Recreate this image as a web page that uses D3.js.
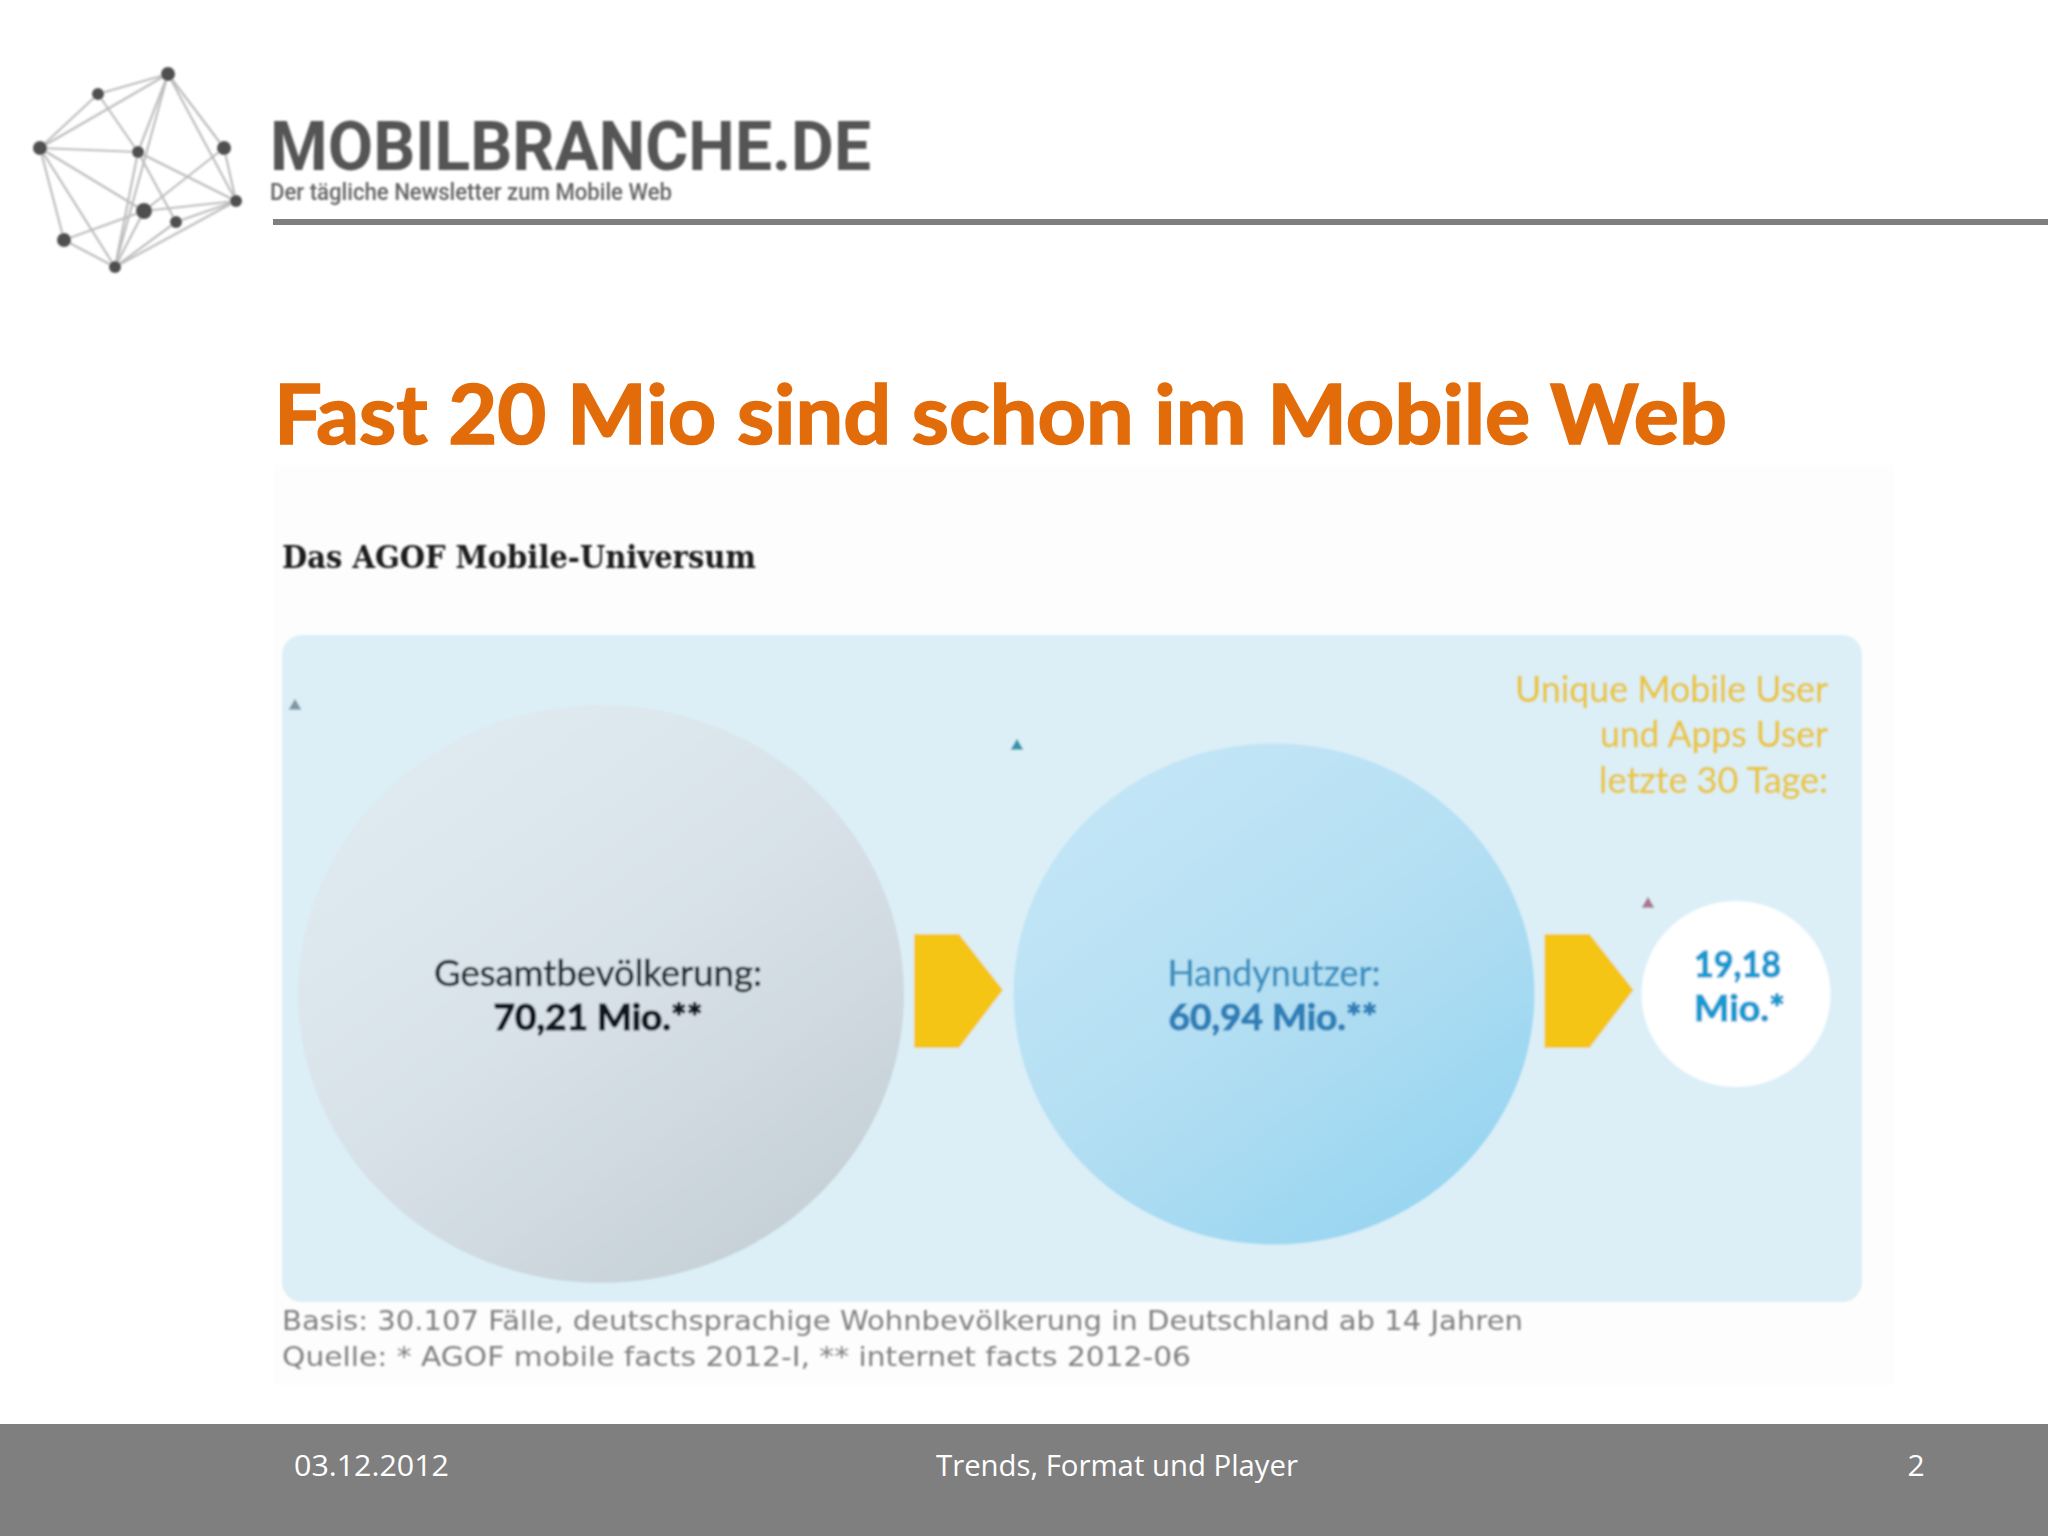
<!DOCTYPE html>
<html>
<head>
<meta charset="utf-8">
<title>Fast 20 Mio sind schon im Mobile Web</title>
<script src="https://cdn.jsdelivr.net/npm/d3@7/dist/d3.min.js"></script>
<style>
  html, body { margin: 0; padding: 0; background: #fff; }
  svg { display: block; }
</style>
</head>
<body>
<svg id="chart" width="2048" height="1536"></svg>
<script>
// audience funnel, in Mio.
const categories = ['Gesamtbevölkerung', 'Handynutzer', 'Unique Mobile User'];
const values = [70.21, 60.94, 19.18];
const nameLabels = ['Gesamtbevölkerung:', 'Handynutzer:', ''];
const valueLabels = ['70,21 Mio.**', '60,94 Mio.**', '19,18'];

const slideTitle = 'Fast 20 Mio sind schon im Mobile Web';
const chartTitle = 'Das AGOF Mobile-Universum';
const uniqueLines = ['Unique Mobile User', 'und Apps User', 'letzte 30 Tage:'];
const notes = [
  'Basis: 30.107 Fälle, deutschsprachige Wohnbevölkerung in Deutschland ab 14 Jahren',
  'Quelle: * AGOF mobile facts 2012-I, ** internet facts 2012-06'
];
const footerLabels = ['03.12.2012', 'Trends, Format und Player', '2'];

const svg = d3.select('#chart');
const defs = svg.append('defs');

// the source is a blurry screenshot
defs.append('filter').attr('id', 'soft')
  .append('feGaussianBlur').attr('stdDeviation', 0.9);

function gradient(id, stops) {
  const g = defs.append('linearGradient').attr('id', id)
    .attr('x1', '15%').attr('y1', '5%').attr('x2', '82%').attr('y2', '95%');
  stops.forEach(s => g.append('stop').attr('offset', s[0]).attr('stop-color', s[1]));
}
gradient('grey', [[0, '#e0ebf2'], [0.5, '#d8e1e8'], [1, '#c5d0d6']]);
gradient('blue', [[0, '#c4e6f6'], [0.5, '#b4dff3'], [1, '#97d5f1']]);

function label(parent, text, opts) {
  const t = parent.append('text')
    .attr('x', opts.x)
    .attr('y', opts.y)
    .attr('text-anchor', opts.anchor || 'start')
    .attr('font-family', opts.font || 'Lato')
    .attr('font-size', opts.size)
    .attr('font-weight', opts.weight || 400)
    .attr('fill', opts.fill)
    .text(text);
  if (opts.len) t.attr('textLength', opts.len).attr('lengthAdjust', 'spacingAndGlyphs');
  // Lato runs lighter than the original face, thicken it a bit
  if (opts.stroke) t.attr('stroke', opts.fill).attr('stroke-width', opts.stroke);
  return t;
}

// --- logo ---
const logoNodes = [[168, 74, 7], [98, 94, 6], [40, 148, 7], [138, 152, 6], [224, 148, 7],
  [236, 201, 6], [144, 211, 8], [176, 222, 6], [64, 240, 7], [115, 267, 6]];
const logoEdges = [[0, 1], [0, 2], [0, 3], [0, 9], [0, 4], [0, 5], [1, 2], [1, 3], [2, 3], [2, 6],
  [2, 8], [2, 9], [3, 9], [3, 7], [3, 5], [4, 5], [4, 6], [6, 5], [6, 8], [6, 9], [7, 5], [7, 9],
  [9, 5], [8, 9]];

const logo = svg.append('g').attr('filter', 'url(#soft)');
logo.selectAll('line').data(logoEdges).enter().append('line')
  .attr('x1', d => logoNodes[d[0]][0])
  .attr('y1', d => logoNodes[d[0]][1])
  .attr('x2', d => logoNodes[d[1]][0])
  .attr('y2', d => logoNodes[d[1]][1])
  .attr('stroke', '#bdbdbd')
  .attr('stroke-width', 2.2);
logo.selectAll('circle').data(logoNodes).enter().append('circle')
  .attr('cx', d => d[0])
  .attr('cy', d => d[1])
  .attr('r', d => d[2])
  .attr('fill', '#505050');

label(logo, 'MOBILBRANCHE.DE', { x: 270, y: 170, font: 'Roboto', size: 69, weight: 700, fill: '#555', len: 601 });
label(logo, 'Der tägliche Newsletter zum Mobile Web', { x: 270, y: 200, font: 'Roboto', size: 23, weight: 500, fill: '#636363', len: 402 });

svg.append('rect').attr('x', 273).attr('y', 219).attr('width', 1775).attr('height', 6).attr('fill', '#7f7f7f');

label(svg, slideTitle, { x: 274, y: 444, size: 82, weight: 700, fill: '#e36c0a', len: 1453, stroke: 1.6 });

// --- picture area ---
svg.append('rect').attr('x', 274).attr('y', 465).attr('width', 1620).attr('height', 920).attr('fill', '#fdfdfd');

const chart = svg.append('g').attr('filter', 'url(#soft)');

label(chart, chartTitle, { x: 282, y: 568, font: 'DejaVu Serif', size: 32, weight: 700, fill: '#1c1c1c', len: 474 });

chart.append('rect')
  .attr('x', 282).attr('y', 635)
  .attr('width', 1580).attr('height', 667)
  .attr('rx', 20)
  .attr('fill', '#dceff7');

// circle sizes follow the values, but not strictly to area in the original
const cx = d3.scaleOrdinal().domain(categories).range([601, 1274, 1736]);
const rx = d3.scaleLinear().domain([19.18, 60.94, 70.21]).range([94.5, 260.5, 303]);
const ry = d3.scaleLinear().domain([19.18, 60.94, 70.21]).range([93, 250.5, 289]);
const cy = 994;

const fills = ['url(#grey)', 'url(#blue)', '#ffffff'];

chart.selectAll('ellipse').data(categories).enter().append('ellipse')
  .attr('cx', d => cx(d))
  .attr('cy', cy)
  .attr('rx', (d, i) => rx(values[i]))
  .attr('ry', (d, i) => ry(values[i]))
  .attr('fill', (d, i) => fills[i]);

// arrows sit just right of the first two circles
const arrowLine = d3.line();
chart.selectAll('path.arrow').data(categories.slice(0, 2)).enter().append('path')
  .attr('class', 'arrow')
  .attr('fill', '#f5c518')
  .attr('d', (d, i) => {
    const x = cx(d) + rx(values[i]) + 10;
    return arrowLine([[x, cy - 60], [x + 45, cy - 60], [x + 89, cy - 4], [x + 45, cy + 54], [x, cy + 54]]);
  });

// small specks left in the source image
const specks = [[295, 706, '#7f97a5'], [1017, 746, '#2f97ab'], [1648, 904, '#a8788f']];
chart.selectAll('path.speck').data(specks).enter().append('path')
  .attr('class', 'speck')
  .attr('transform', d => `translate(${d[0]},${d[1]})`)
  .attr('d', d3.symbol(d3.symbolTriangle, 70))
  .attr('fill', d => d[2]);

label(chart, nameLabels[0], { x: 598, y: 986, anchor: 'middle', size: 36, fill: '#1f2b33', len: 328, stroke: 0.6 });
label(chart, valueLabels[0], { x: 598, y: 1030, anchor: 'middle', size: 36, weight: 700, fill: '#0f1820', len: 209, stroke: 1.2 });
label(chart, nameLabels[1], { x: 1274, y: 986, anchor: 'middle', size: 36, fill: '#3a8fbf', len: 213, stroke: 0.5 });
label(chart, valueLabels[1], { x: 1273, y: 1030, anchor: 'middle', size: 36, weight: 700, fill: '#2f80b8', len: 209, stroke: 1.2 });
label(chart, valueLabels[2], { x: 1694, y: 977, size: 36, weight: 700, fill: '#189bd1', len: 87, stroke: 1.2 });
label(chart, 'Mio.*', { x: 1694, y: 1021, size: 36, weight: 700, fill: '#189bd1', len: 91, stroke: 1.2 });

const uniqueY = [702, 747, 793];
const uniqueLen = [313, 228, 229];
uniqueLines.forEach((s, i) => {
  label(chart, s, { x: 1828, y: uniqueY[i], anchor: 'end', size: 36, fill: '#e8c63c', len: uniqueLen[i], stroke: 0.5 });
});

const noteY = [1330, 1366];
const noteLen = [1241, 909];
notes.forEach((s, i) => {
  label(chart, s, { x: 282, y: noteY[i], font: 'DejaVu Sans', size: 27, fill: '#808080', len: noteLen[i] });
});

// --- footer ---
svg.append('rect').attr('x', 0).attr('y', 1424).attr('width', 2048).attr('height', 112).attr('fill', '#7f7f7f');
label(svg, footerLabels[0], { x: 294, y: 1476, font: 'Open Sans', size: 30, fill: '#fff', len: 155 });
label(svg, footerLabels[1], { x: 1117, y: 1476, anchor: 'middle', font: 'Open Sans', size: 30, fill: '#fff', len: 362 });
label(svg, footerLabels[2], { x: 1916, y: 1476, anchor: 'middle', font: 'Open Sans', size: 30, fill: '#fff' });
</script>
</body>
</html>
